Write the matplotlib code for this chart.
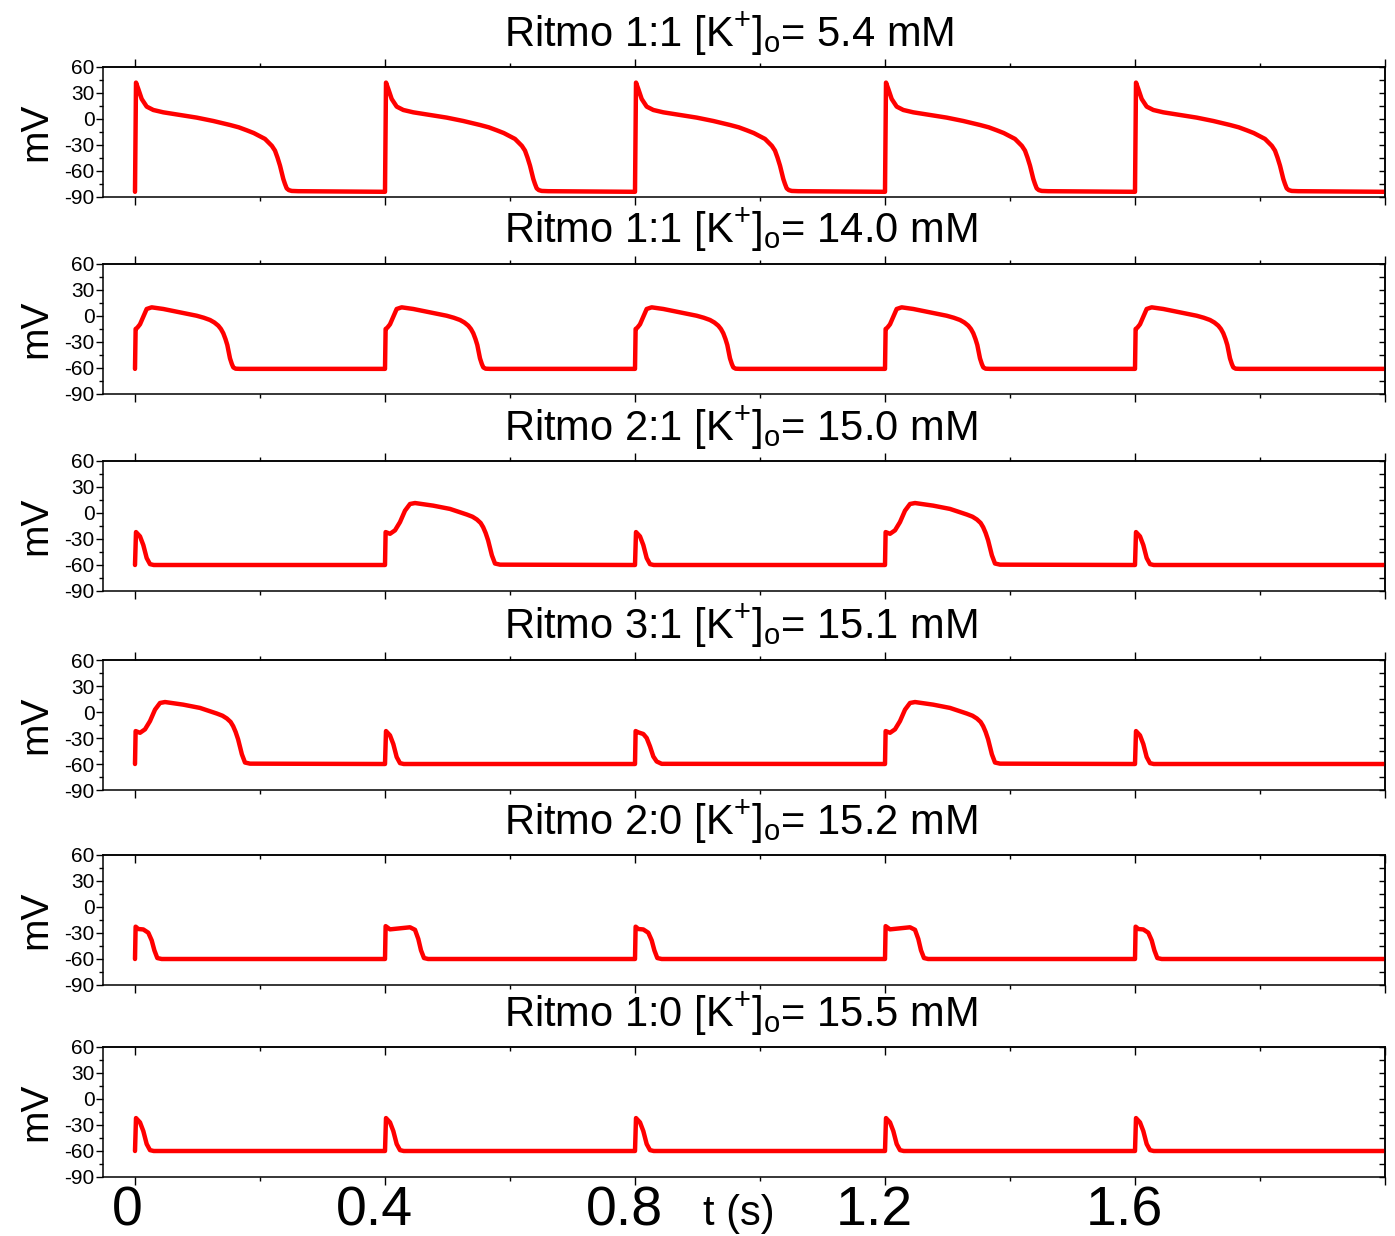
import numpy as np
import matplotlib
matplotlib.use("Agg")
import matplotlib.pyplot as plt
from matplotlib.transforms import ScaledTranslation
from matplotlib.ticker import NullFormatter

plt.rcParams['font.family'] = ['Liberation Sans', 'DejaVu Sans']
plt.rcParams['mathtext.fontset'] = 'custom'
plt.rcParams['mathtext.rm'] = 'Liberation Sans'
plt.rcParams['mathtext.it'] = 'Liberation Sans:italic'
plt.rcParams['mathtext.bf'] = 'Liberation Sans:bold'

# ---------------- data ----------------
titles = [
    r"Ritmo 1:1 [K$^{+}$]$_{\mathrm{o}}$= 5.4 mM",
    r"Ritmo 1:1 [K$^{+}$]$_{\mathrm{o}}$= 14.0 mM",
    r"Ritmo 2:1 [K$^{+}$]$_{\mathrm{o}}$= 15.0 mM",
    r"Ritmo 3:1 [K$^{+}$]$_{\mathrm{o}}$= 15.1 mM",
    r"Ritmo 2:0 [K$^{+}$]$_{\mathrm{o}}$= 15.2 mM",
    r"Ritmo 1:0 [K$^{+}$]$_{\mathrm{o}}$= 15.5 mM",
]
stim_times = [0.0, 0.4, 0.8, 1.2, 1.6]
t_end = 2.0

# beat waveforms: time since stimulus (s), membrane potential (mV)
ap_5p4_t = [0, 0.0016, 0.0053, 0.0107, 0.0187, 0.0293, 0.0453, 0.072, 0.0987, 0.1253,
            0.152, 0.166, 0.1787, 0.19, 0.2, 0.208, 0.2133, 0.219, 0.224, 0.228, 0.232,
            0.2347, 0.2373, 0.240, 0.2427, 0.246, 0.2507, 0.2613]
ap_5p4_v = [-84, 42, 34.6, 23.1, 14.3, 10.4, 7.7, 4.6, 1.6, -2.3,
            -6.9, -9.6, -13, -16.2, -20, -23, -26.9, -31, -36.5, -44.5, -53.8,
            -61.5, -69.2, -75, -80, -82, -83, -83.3]

ap_14_t = [0, 0.001, 0.0037, 0.008, 0.0133, 0.0187, 0.0267, 0.0453, 0.072, 0.0987,
           0.11, 0.12, 0.127, 0.1333, 0.1375, 0.1413, 0.1447, 0.1477, 0.152, 0.155,
           0.1573, 0.161, 0.168]
ap_14_v = [-61, -15, -13.5, -9.6, -0.8, 8.1, 10.0, 8.1, 4.2, 0.3,
           -2.0, -4.6, -7.5, -11.2, -15, -20, -26.5, -33.5, -48.9, -55.5,
           -59.3, -60.8, -61]

ap_long_t = [0, 0.001, 0.008, 0.016, 0.024, 0.032, 0.04, 0.048, 0.077, 0.104,
             0.131, 0.14, 0.147, 0.153, 0.157, 0.161, 0.165, 0.171, 0.176, 0.184]
ap_long_v = [-60, -22, -24, -20, -10.5, 2.7, 10.4, 11.5, 8.5, 4.7,
             -1.8, -4.3, -7.5, -11.5, -16.3, -23, -31.6, -48.8, -58.3, -59.6]

spike_t = [0, 0.0016, 0.008, 0.0133, 0.0187, 0.024, 0.030]
spike_v = [-60, -22, -27, -37, -52, -59, -60]

shoulder_t = [0, 0.001, 0.0053, 0.0133, 0.0187, 0.024, 0.0293, 0.0347, 0.0427]
shoulder_v = [-60, -22, -23.5, -25.4, -30, -39.7, -51.3, -57.1, -59.8]

plat_a_t = [0, 0.001, 0.0053, 0.0133, 0.0213, 0.0267, 0.031, 0.0357, 0.0427]
plat_a_v = [-60, -22.7, -25.4, -25.9, -29.7, -38.5, -50, -58.9, -60]

plat_b_t = [0, 0.001, 0.008, 0.024, 0.04, 0.048, 0.0533, 0.0576, 0.0624, 0.069]
plat_b_v = [-60, -22.1, -25.8, -24.6, -23.4, -26.3, -36.9, -50, -58.9, -60]

waveforms = {
    "ap_5p4": (ap_5p4_t, ap_5p4_v),
    "ap_14": (ap_14_t, ap_14_v),
    "long": (ap_long_t, ap_long_v),
    "spike": (spike_t, spike_v),
    "shoulder": (shoulder_t, shoulder_v),
    "plat_a": (plat_a_t, plat_a_v),
    "plat_b": (plat_b_t, plat_b_v),
}

# which waveform follows each stimulus, per panel
beat_sequences = [
    ["ap_5p4"] * 5,
    ["ap_14"] * 5,
    ["spike", "long", "spike", "long", "spike"],
    ["long", "spike", "shoulder", "long", "spike"],
    ["plat_a", "plat_b", "plat_a", "plat_b", "plat_a"],
    ["spike"] * 5,
]
rest_end = [-84, -61, -60, -60, -60, -60]

yticks = [-90, -60, -30, 0, 30, 60]
yticks_minor = [-75, -45, -15, 15, 45]
xticks = [0, 0.4, 0.8, 1.2, 1.6, 2.0]
xticks_minor = [0.2, 0.6, 1.0, 1.4, 1.8]
xticklabels = ["0", "0.4", "0.8", "1.2", "1.6", ""]

# ---------------- figure ----------------
W, H = 1395, 1236
fig = plt.figure(figsize=(W / 100, H / 100), dpi=100)
tops = [67, 264, 461, 660, 855, 1047]
ax_h = 130
left_px, right_px = 103, 1385

for i, top in enumerate(tops):
    ax = fig.add_axes([left_px / W, 1 - (top + ax_h) / H, (right_px - left_px) / W, ax_h / H])
    ts, vs = [], []
    for onset, name in zip(stim_times, beat_sequences[i]):
        wt, wv = waveforms[name]
        ts.extend(onset + np.asarray(wt))
        vs.extend(wv)
    ts.append(t_end)
    vs.append(rest_end[i])
    ax.plot(ts, vs, color="#ff0000", lw=3.2, solid_joinstyle="round", solid_capstyle="round")

    ax.set_xlim(-0.0512, 2.0)
    ax.set_ylim(-90, 60)
    for s in ax.spines.values():
        s.set_linewidth(1.1)

    ax.set_yticks(yticks)
    ax.set_yticks(yticks_minor, minor=True)
    ax.set_yticklabels([str(v) for v in yticks], fontsize=15)
    ax.tick_params(axis="y", which="major", direction="out", length=5, width=1, pad=1, right=False)
    ax.tick_params(axis="y", which="minor", direction="out", length=3, width=1, right=False)

    secy = ax.secondary_yaxis("right")
    secy.set_yticks(yticks)
    secy.set_yticks(yticks_minor, minor=True)
    secy.yaxis.set_major_formatter(NullFormatter())
    secy.tick_params(which="both", direction="in", length=4, width=1)
    secy.spines["right"].set_linewidth(1.1)

    ax.set_xticks(xticks)
    ax.set_xticks(xticks_minor, minor=True)
    ax.tick_params(axis="x", which="major", direction="out", length=6, width=1, top=False)
    ax.tick_params(axis="x", which="minor", direction="out", length=3, width=1, top=False)
    if i == len(tops) - 1:
        ax.set_xticklabels(xticklabels, fontsize=40)
        ax.tick_params(axis="x", which="major", pad=0)
        for k, lab in enumerate(ax.get_xticklabels()):
            dx = -8 if k == 0 else -11
            off = ScaledTranslation(dx / 100, 0, fig.dpi_scale_trans)
            lab.set_transform(lab.get_transform() + off)
    else:
        ax.set_xticklabels([])

    secx = ax.secondary_xaxis("top")
    secx.set_xticks(xticks)
    secx.set_xticks(xticks_minor, minor=True)
    secx.xaxis.set_major_formatter(NullFormatter())
    tdir = "out" if i < 4 else "in"
    secx.tick_params(which="major", direction=tdir, length=6, width=1)
    secx.tick_params(which="minor", direction=tdir, length=3, width=1)
    secx.spines["top"].set_linewidth(1.1)

    fig.text(504 / W, 1 - (top - 21) / H, titles[i], fontsize=30, ha="left", va="baseline")
    fig.text(36 / W, 1 - (top + ax_h / 2) / H, "mV", fontsize=28, rotation=90,
             ha="center", va="center")

fig.text(739 / W, 1 - 1225 / H, "t (s)", fontsize=30, ha="center", va="baseline")

fig.savefig("out.png", dpi=100)
